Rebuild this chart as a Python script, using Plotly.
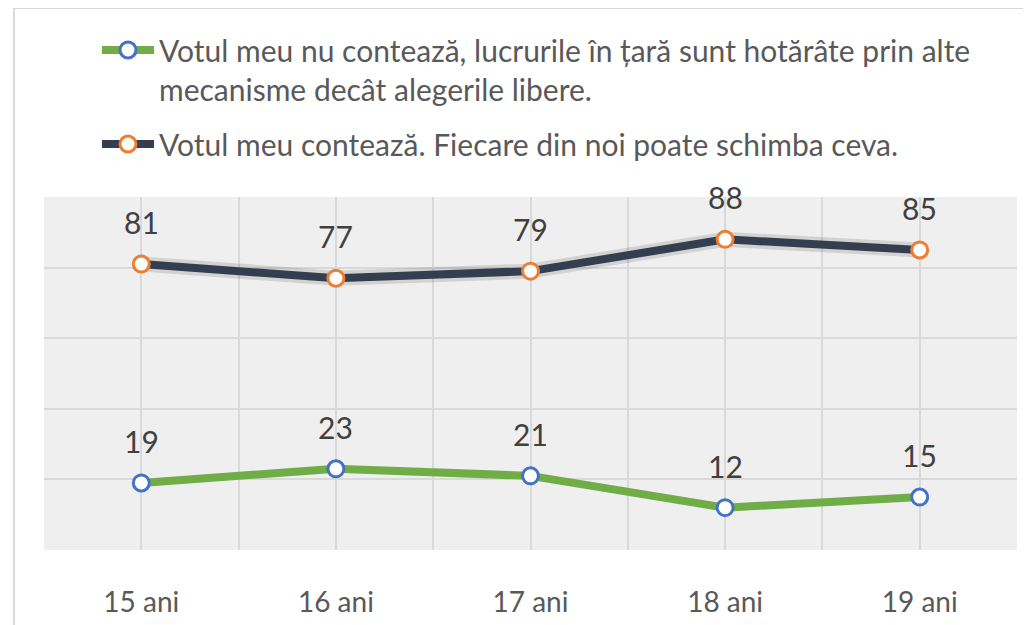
import plotly.graph_objects as go

categories = ["15 ani", "16 ani", "17 ani", "18 ani", "19 ani"]
series_names = [
    "Votul meu nu contează, lucrurile în țară sunt hotărâte prin alte<br>mecanisme decât alegerile libere.",
    "Votul meu contează. Fiecare din noi poate schimba ceva.",
]
nu_conteaza = [19, 23, 21, 12, 15]
conteaza = [81, 77, 79, 88, 85]

FONT = "Lato"
TXT = "#595959"
OFF = 8  # page body margin
W, H = 1031 - OFF, 625 - OFF
L, R, T, B = 44 - OFF, 1017 - OFF, 197 - OFF, 550 - OFF

xs = list(range(len(categories)))
fig = go.Figure()

# soft shadow under the dark line
fig.add_trace(go.Scatter(
    x=xs, y=conteaza, mode="lines", showlegend=False, hoverinfo="skip",
    line=dict(color="rgba(0,0,0,0.12)", width=15),
))
fig.add_trace(go.Scatter(
    x=xs, y=nu_conteaza, name=series_names[0], mode="lines+markers",
    legendgroup="a",
    line=dict(color="#70AD47", width=8),
    marker=dict(size=16, color="white", line=dict(color="#4472C4", width=3)),
))
fig.add_trace(go.Scatter(
    x=xs, y=conteaza, name=series_names[1], mode="lines+markers",
    legendgroup="b",
    line=dict(color="#333F50", width=8),
    marker=dict(size=16, color="white", line=dict(color="#ED7D31", width=3)),
))

annotations = []
for vals in (nu_conteaza, conteaza):
    for i, v in enumerate(vals):
        annotations.append(dict(
            x=i, y=v, xref="x", yref="y", text=str(v), showarrow=False,
            yshift=42, font=dict(family=FONT, size=30, color="#404040"),
        ))

def px_x(p):
    return (p - OFF - L) / (R - L)

def px_y(p):
    return (B - (p - OFF)) / (B - T)

fig.update_layout(
    width=W, height=H,
    margin=dict(l=L, r=W - R, t=T, b=H - B, autoexpand=False),
    paper_bgcolor="white",
    plot_bgcolor="#efefef",
    font=dict(family=FONT, size=28, color=TXT),
    showlegend=True,
    legend=dict(
        x=px_x(97), y=px_y(24), xanchor="left", yanchor="top",
        font=dict(family=FONT, size=30, color=TXT),
        bgcolor="rgba(0,0,0,0)", itemwidth=52, tracegroupgap=13,
        valign="top",
    ),
    annotations=annotations,
    shapes=[dict(
        type="rect", xref="paper", yref="paper",
        x0=px_x(14), x1=px_x(1045), y0=px_y(640), y1=px_y(8),
        line=dict(color="#d9d9d9", width=2), fillcolor="rgba(0,0,0,0)",
        layer="below",
    )],
    xaxis=dict(
        range=[-0.5, len(categories) - 0.5],
        tickvals=xs, ticktext=categories,
        showgrid=True, gridcolor="#d9d9d9", gridwidth=1.5,
        zeroline=False, showline=False, ticks="",
        tickfont=dict(family=FONT, size=28, color=TXT),
        ticklabelstandoff=33, automargin=False,
        minor=dict(tickvals=[i - 0.5 for i in range(len(categories) + 1)],
                   showgrid=True, gridcolor="#d9d9d9", gridwidth=1.5),
        fixedrange=True,
    ),
    yaxis=dict(
        range=[0, 100], dtick=20, showticklabels=False,
        showgrid=True, gridcolor="#d9d9d9", gridwidth=1.5,
        zeroline=False, showline=False, fixedrange=True, automargin=False,
    ),
)

fig.write_html("out.html")
